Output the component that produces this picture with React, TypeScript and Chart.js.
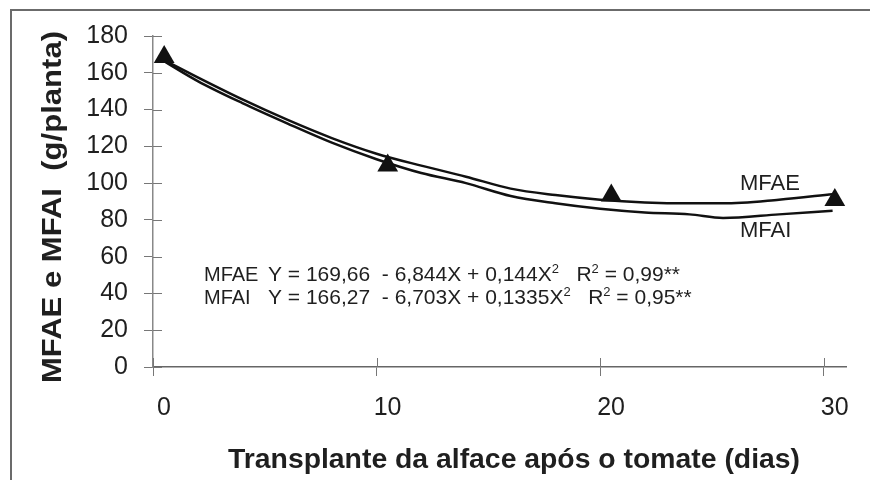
import React, { useEffect, useRef } from "react";
import { Chart, registerables } from "chart.js";

Chart.register(...registerables);

// Observed means (triangles)
const obsX = [0.5, 10.5, 20.5, 30.5];
const obsY = [168.6, 109.6, 93.3, 90.8];

// Fitted curves
const fitX = [0.4, 2, 4, 6, 8, 10, 12, 14, 16, 18, 20, 22, 24, 25.5, 28, 30.4];
const mfaeFit = [167.5, 157.5, 145.5, 134.5, 124.5, 116, 109.5, 103.5, 97, 93.5, 91, 89.5, 89, 89, 91, 94];
const mfaiFit = [167, 155.5, 143.5, 132.5, 122, 113, 105.5, 100, 93, 89, 86, 84, 83, 81, 83, 85];

const xTicks = [0, 10, 20, 30];
const yTicks = [0, 20, 40, 60, 80, 100, 120, 140, 160, 180];

const seriesNames = ["MFAE", "MFAI"];
const eqLines = [
  { name: "MFAE", parts: [["Y = 169,66  - 6,844X + 0,144X", false], ["2", true], ["   R", false], ["2", true], [" = 0,99**", false]] },
  { name: "MFAI", parts: [["Y = 166,27  - 6,703X + 0,1335X", false], ["2", true], ["   R", false], ["2", true], [" = 0,95**", false]] },
];
const xTitle = "Transplante da alface após o tomate (dias)";
const yTitle = "MFAE e MFAI  (g/planta)";

const FONT = '"Liberation Sans", Arial, sans-serif';

const decor = {
  id: "decor",
  afterDraw(chart: any) {
    const { ctx, chartArea, scales } = chart;
    const xs = scales.x;
    const ys = scales.y;
    ctx.save();
    // frame
    ctx.strokeStyle = "#6b6b6b";
    ctx.lineWidth = 2;
    ctx.beginPath();
    ctx.moveTo(11, 480);
    ctx.lineTo(11, 10);
    ctx.lineTo(870, 10);
    ctx.stroke();

    // inner halves of tick marks
    ctx.lineWidth = 1;
    ctx.strokeStyle = "#777";
    ctx.beginPath();
    yTicks.forEach((v) => {
      const py = Math.round(ys.getPixelForValue(v)) + 0.5;
      ctx.moveTo(chartArea.left, py);
      ctx.lineTo(chartArea.left + 9, py);
    });
    xTicks.forEach((v) => {
      const px = Math.round(xs.getPixelForValue(v)) + 0.5;
      ctx.moveTo(px, chartArea.bottom);
      ctx.lineTo(px, chartArea.bottom - 9);
    });
    ctx.stroke();

    ctx.fillStyle = "#1f1f1f";
    ctx.textAlign = "left";
    ctx.textBaseline = "alphabetic";

    // equations
    const baselines = [281, 304];
    eqLines.forEach((ln, i) => {
      const by = baselines[i];
      ctx.font = `20px ${FONT}`;
      ctx.fillText(ln.name, 204, by);
      let x = 268;
      ln.parts.forEach(([t, sup]: any) => {
        if (sup) {
          ctx.font = `13px ${FONT}`;
          ctx.fillText(t, x, by - 8);
          x += ctx.measureText(t).width;
        } else {
          ctx.font = `21px ${FONT}`;
          ctx.fillText(t, x, by);
          x += ctx.measureText(t).width;
        }
      });
    });

    // series labels
    ctx.font = `22px ${FONT}`;
    ctx.fillText(seriesNames[0], 740, 190);
    ctx.fillText(seriesNames[1], 740, 237);

    // x title
    ctx.font = `bold 28px ${FONT}`;
    const wx = ctx.measureText(xTitle).width;
    ctx.save();
    ctx.translate(228, 468);
    ctx.scale(572 / wx, 1);
    ctx.fillText(xTitle, 0, 0);
    ctx.restore();

    // y title
    const wy = ctx.measureText(yTitle).width;
    ctx.save();
    ctx.translate(61, 207);
    ctx.rotate(-Math.PI / 2);
    ctx.scale(352 / wy, 1);
    ctx.textAlign = "center";
    ctx.fillText(yTitle, 0, 0);
    ctx.restore();

    ctx.restore();
  },
};

export default function App() {
  const ref = useRef<HTMLCanvasElement | null>(null);
  useEffect(() => {
    if (!ref.current) return;
    const chart = new Chart(ref.current, {
      type: "line",
      data: {
        datasets: [
          {
            label: "Observado",
            data: obsX.map((x, i) => ({ x, y: obsY[i] })),
            showLine: false,
            pointStyle: "triangle",
            pointRadius: 12,
            backgroundColor: "#111",
            borderColor: "#111",
            borderWidth: 0,
          },
          {
            label: seriesNames[0],
            data: fitX.map((x, i) => ({ x, y: mfaeFit[i] })),
            borderColor: "#111",
            borderWidth: 2.5,
            pointRadius: 0,
            cubicInterpolationMode: "monotone",
            fill: false,
          },
          {
            label: seriesNames[1],
            data: fitX.map((x, i) => ({ x, y: mfaiFit[i] })),
            borderColor: "#111",
            borderWidth: 2.5,
            pointRadius: 0,
            cubicInterpolationMode: "monotone",
            fill: false,
          },
        ],
      },
      options: {
        responsive: false,
        animation: false,
        layout: { padding: { left: 0, top: 36, right: 24, bottom: 0 } },
        plugins: { legend: { display: false }, tooltip: { enabled: false } },
        scales: {
          x: {
            type: "linear",
            min: 0,
            max: 31,
            afterBuildTicks: (s: any) => {
              s.ticks = xTicks.map((v) => ({ value: v }));
            },
            afterFit: (s: any) => {
              s.height = 113;
            },
            grid: { drawOnChartArea: false, drawTicks: true, tickLength: 9, color: "#777", lineWidth: 1 },
            border: { display: true, color: "#666", width: 1.5 },
            ticks: {
              font: { family: FONT, size: 25 },
              color: "#1f1f1f",
              padding: 17,
              labelOffset: 11,
              maxRotation: 0,
              autoSkip: false,
            },
          },
          y: {
            min: 0,
            max: 180,
            afterBuildTicks: (s: any) => {
              s.ticks = yTicks.map((v) => ({ value: v }));
            },
            afterFit: (s: any) => {
              s.width = 153;
            },
            grid: { drawOnChartArea: false, drawTicks: true, tickLength: 9, color: "#777", lineWidth: 1 },
            border: { display: true, color: "#888", width: 1.5 },
            ticks: {
              font: { family: FONT, size: 25 },
              color: "#1f1f1f",
              padding: 16,
              autoSkip: false,
            },
          },
        },
      },
      plugins: [decor],
    });
    return () => chart.destroy();
  }, []);
  return (
    <div style={{ position: "fixed", left: 0, top: 0, width: 870, height: 480, background: "#fff" }}>
      <canvas ref={ref} width={870} height={480} />
    </div>
  );
}
